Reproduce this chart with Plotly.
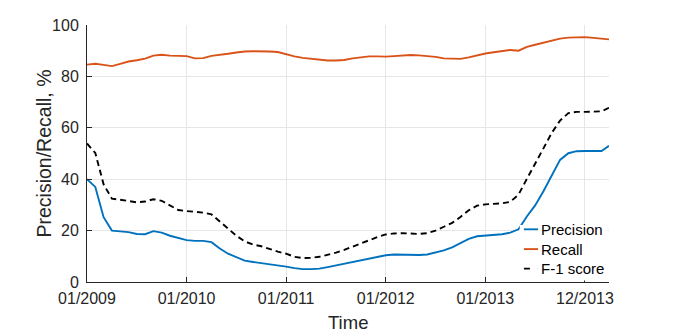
import plotly.graph_objects as go

# months since 01/2009
months = list(range(63)) + [62.9]

precision = [40.0, 37.0, 25.2, 20.0, 19.7, 19.4, 18.7, 18.6, 19.8, 19.2,
             18.0, 17.0, 16.3, 16.0, 16.0, 15.5, 13.0, 11.0, 9.5, 8.3,
             7.8, 7.4, 6.9, 6.4, 6.0, 5.4, 5.0, 5.0, 5.2, 5.8,
             6.5, 7.2, 7.9, 8.6, 9.2, 9.8, 10.4, 10.7, 10.6, 10.5,
             10.5, 10.7, 11.4, 12.3, 13.5, 15.2, 16.8, 17.8, 18.1, 18.4,
             18.6, 19.2, 20.5, 25.5, 29.8, 35.3, 41.6, 47.5, 50.1, 50.9,
             51.0, 51.0, 51.0, 53.0]

recall = [84.6, 84.9, 84.5, 84.0, 84.9, 85.8, 86.3, 86.9, 88.1, 88.4,
          88.1, 88.0, 87.9, 87.0, 87.1, 88.0, 88.3, 88.8, 89.3, 89.7,
          89.8, 89.8, 89.7, 89.5, 88.6, 87.8, 87.2, 86.9, 86.4, 86.2,
          86.2, 86.4, 87.0, 87.5, 87.8, 87.8, 87.7, 87.9, 88.1, 88.3,
          88.2, 88.0, 87.6, 87.0, 87.0, 86.8, 87.4, 88.2, 88.9, 89.4,
          89.8, 90.3, 90.0, 91.5, 92.3, 93.1, 94.0, 94.7, 95.1, 95.3,
          95.3, 95.0, 94.6, 94.4]

f1_score = [53.9, 50.2, 38.0, 32.4, 32.0, 31.5, 31.0, 31.3, 32.2, 31.6,
            29.8, 28.0, 27.6, 27.2, 27.0, 26.3, 23.5, 20.5, 18.0, 15.8,
            14.6, 13.9, 12.7, 11.8, 11.0, 9.8, 9.3, 9.4, 9.8, 10.6,
            11.4, 12.5, 13.8, 15.2, 16.3, 17.5, 18.5, 18.9, 19.0, 18.8,
            18.7, 19.0, 20.0, 21.5, 23.0, 25.3, 27.9, 29.7, 30.2, 30.4,
            30.6, 31.2, 34.0, 40.1, 45.8, 52.0, 58.0, 62.8, 65.7, 66.2,
            66.2, 66.2, 66.4, 67.8]

tick_vals = [0, 12, 24, 36, 48, 60]
tick_text = ["01/2009", "01/2010", "01/2011", "01/2012", "01/2013", "12/2013"]
y_ticks = [0, 20, 40, 60, 80, 100]

series_names = ["Precision", "Recall", "F-1 score"]
series_colors = ["#0072BD", "#D95319", "#000000"]
series_dash = ["solid", "solid", "6px,4px"]
series_values = [precision, recall, f1_score]

x_title = "Time"
y_title = "Precision/Recall, %"

FONT = "Liberation Sans, Arial, sans-serif"
TXT = "#262626"

fig = go.Figure()
for name, vals, col, dash in zip(series_names, series_values, series_colors, series_dash):
    fig.add_trace(go.Scatter(x=months, y=vals, mode="lines", name=name,
                             line=dict(color=col, width=1.9, dash=dash),
                             showlegend=False))

# MATLAB-style legend box (white background, short line samples)
fig.add_shape(type="rect", xref="paper", yref="paper",
              x0=0.829, x1=0.997, y0=0.006, y1=0.222,
              fillcolor="white", line=dict(width=0), layer="above")
legend_rows = [0.205, 0.128, 0.052]
for name, col, dash, yy in zip(series_names, series_colors, series_dash, legend_rows):
    fig.add_shape(type="line", xref="paper", yref="paper",
                  x0=0.837, x1=0.864, y0=yy, y1=yy, layer="above",
                  line=dict(color=col, width=1.9,
                            dash="6px,8px" if dash != "solid" else "solid"))
    fig.add_annotation(xref="paper", yref="paper", x=0.866, y=yy,
                       xanchor="left", yanchor="middle", showarrow=False,
                       text=name, font=dict(size=15, color="#000000"))

# axis titles
fig.add_annotation(xref="paper", yref="paper", x=0.5, y=0, yshift=-40,
                   xanchor="center", yanchor="middle", showarrow=False,
                   text=x_title, font=dict(size=18.5, color=TXT))
fig.add_annotation(xref="paper", yref="paper", x=0, y=0.5, xshift=-44,
                   xanchor="center", yanchor="middle", showarrow=False,
                   textangle=-90, text=y_title, font=dict(size=19.5, color=TXT))

# the page body adds an 8px margin at the top/left, so the figure is offset by 8px
fig.update_layout(
    width=666, height=324,
    margin=dict(l=79, r=65, t=17, b=50),
    paper_bgcolor="white", plot_bgcolor="white",
    font=dict(family=FONT, color=TXT, size=16),
    showlegend=False,
)
fig.update_xaxes(
    range=[0, 62.9], tickvals=tick_vals, ticktext=tick_text,
    showgrid=True, gridcolor="#e6e6e6", gridwidth=1,
    showline=True, linecolor=TXT, linewidth=1, automargin=False,
    ticks="inside", ticklen=5, tickcolor=TXT, zeroline=False,
    ticklabelstandoff=2,
    tickfont=dict(size=16, color=TXT),
)
fig.update_yaxes(
    range=[0, 100], tickvals=y_ticks,
    showgrid=True, gridcolor="#e6e6e6", gridwidth=1,
    showline=True, linecolor=TXT, linewidth=1, automargin=False,
    ticks="inside", ticklen=5, tickcolor=TXT, zeroline=False,
    ticklabelstandoff=4,
    tickfont=dict(size=16, color=TXT),
)

fig.write_html("out.html")
